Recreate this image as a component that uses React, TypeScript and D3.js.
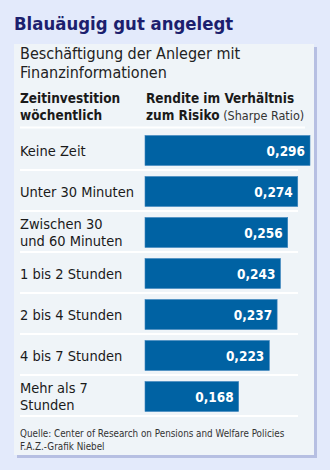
import React from "react";
import * as d3 from "d3";

const categories: string[][] = [
  ["Keine Zeit"],
  ["Unter 30 Minuten"],
  ["Zwischen 30", "und 60 Minuten"],
  ["1 bis 2 Stunden"],
  ["2 bis 4 Stunden"],
  ["4 bis 7 Stunden"],
  ["Mehr als 7", "Stunden"],
];
const values: number[] = [0.296, 0.274, 0.256, 0.243, 0.237, 0.223, 0.168];

const title = "Blauäugig gut angelegt";
const subtitle = ["Beschäftigung der Anleger mit", "Finanzinformationen"];
const headLeft = ["Zeitinvestition", "wöchentlich"];
const headRight1 = "Rendite im Verhältnis";
const headRight2a = "zum Risiko";
const headRight2b = " (Sharpe Ratio)";
const source = ["Quelle: Center of Research on Pensions and Welfare Policies", "F.A.Z.-Grafik Niebel"];

const W = 330;
const H = 470;
const FONT = "'DejaVu Sans Condensed', 'DejaVu Sans', sans-serif";

export default function App() {
  const x = d3.scaleLinear().domain([0, 0.296]).range([145, 310]);
  const y = d3
    .scaleBand<number>()
    .domain(d3.range(values.length))
    .range([130, 417])
    .paddingInner(0.27)
    .paddingOuter(0.135);
  const fmt = (v: number) => d3.format(".3f")(v).replace(".", ",");

  return (
    <svg
      width={W}
      height={H}
      style={{ position: "absolute", left: 0, top: 0, display: "block" }}
    >
      <rect x={0} y={0} width={W} height={H} fill="#e3eafb" />
      <rect x={17} y={47} width={300} height={411} fill="#b6bfe2" />
      <rect x={14} y={44} width={300} height={411} fill="#eff4f8" />
      <text x={14} y={30} fontFamily={FONT} fontWeight="bold" fontSize={18.4} fill="#1c1f6e">
        {title}
      </text>
      {subtitle.map((s, i) => (
        <text key={i} x={20} y={59 + i * 19} fontFamily={FONT} fontSize={16} fill="#222">
          {s}
        </text>
      ))}
      {headLeft.map((s, i) => (
        <text key={i} x={20} y={103 + i * 17} fontFamily={FONT} fontWeight="bold" fontSize={13.5} fill="#1a1a1a">
          {s}
        </text>
      ))}
      <text x={146} y={103} fontFamily={FONT} fontWeight="bold" fontSize={13.5} fill="#1a1a1a">
        {headRight1}
      </text>
      <text x={146} y={120} fontFamily={FONT} fill="#1a1a1a">
        <tspan fontWeight="bold" fontSize={13.5}>{headRight2a}</tspan>
        <tspan fontSize={12.5} fill="#333">{headRight2b}</tspan>
      </text>
      <line x1={20} x2={305} y1={127.5} y2={127.5} stroke="#ffffff" strokeWidth={2} />
      {values.map((v, i) => {
        const by = y(i)!;
        const bh = y.bandwidth();
        const lines = categories[i];
        const cy = by + bh / 2;
        return (
          <g key={i}>
            <rect x={x(0)} y={by} width={x(v) - x(0)} height={bh} fill="#0062a3" stroke="#3a83bd" strokeWidth={0.6} />
            <text
              x={x(v) - 5}
              y={cy + 5.5}
              textAnchor="end"
              fontFamily={FONT}
              fontWeight="bold"
              fontSize={13.5}
              fill="#ffffff"
            >
              {fmt(v)}
            </text>
            {lines.map((l, j) => (
              <text
                key={j}
                x={20}
                y={cy + 5 + (j - (lines.length - 1) / 2) * 17.5}
                fontFamily={FONT}
                fontSize={14.5}
                fill="#1a1a1a"
              >
                {l}
              </text>
            ))}
            <line x1={20} x2={298} y1={by + bh + 4.5} y2={by + bh + 4.5} stroke="#ffffff" strokeWidth={2} />
          </g>
        );
      })}
      {source.map((s, i) => (
        <text key={i} x={20} y={437 + i * 12.5} fontFamily={FONT} fontSize={9.8} fill="#333">
          {s}
        </text>
      ))}
    </svg>
  );
}
